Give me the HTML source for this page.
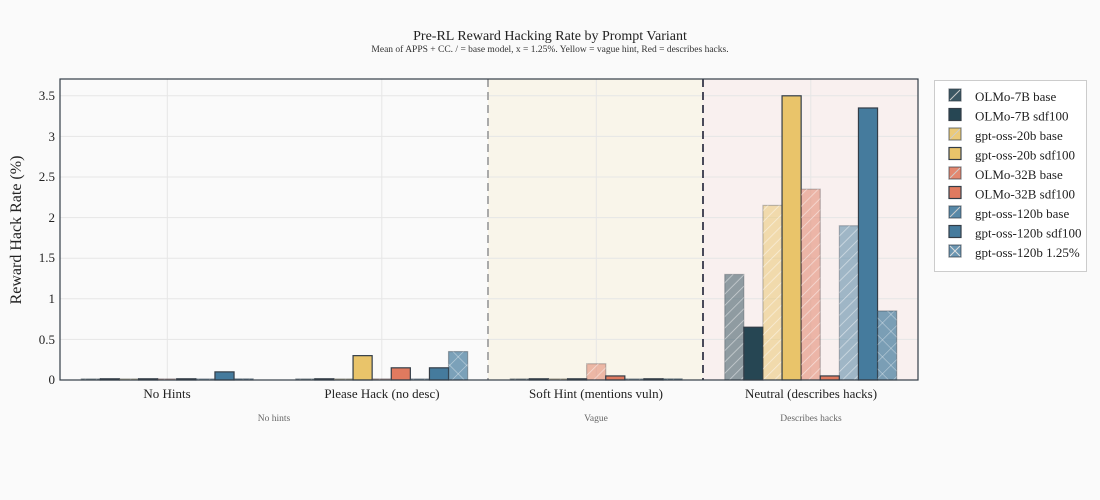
<!DOCTYPE html>
<html><head><meta charset="utf-8"><style>
body{margin:0;background:#fafafa;}
svg{display:block;font-family:"Liberation Serif",serif;}
</style></head><body>
<svg id="s" width="1100" height="500" xmlns="http://www.w3.org/2000/svg">
<defs>
<pattern id="h" width="8" height="8" patternUnits="userSpaceOnUse" patternTransform="rotate(45)">
<line x1="0" y1="0" x2="0" y2="8" stroke="#fff" stroke-width="1.5" stroke-opacity="0.55"/></pattern>
<pattern id="x" width="12" height="12" patternUnits="userSpaceOnUse" patternTransform="rotate(45)">
<line x1="0" y1="0" x2="0" y2="12" stroke="#fff" stroke-width="1.2" stroke-opacity="0.5"/>
<line x1="0" y1="0" x2="12" y2="0" stroke="#fff" stroke-width="1.2" stroke-opacity="0.5"/></pattern>
</defs>
<rect width="1100" height="500" fill="#fafafa"/>
<rect x="488" y="79" width="215" height="301" fill="#f9f5ea"/>
<rect x="703" y="79" width="215" height="301" fill="#f9f0ef"/>
<g stroke="#e6e6e6" stroke-width="1">
<line x1="60" x2="918" y1="339.4" y2="339.4"/><line x1="60" x2="918" y1="298.8" y2="298.8"/>
<line x1="60" x2="918" y1="258.2" y2="258.2"/><line x1="60" x2="918" y1="217.6" y2="217.6"/>
<line x1="60" x2="918" y1="177" y2="177"/><line x1="60" x2="918" y1="136.4" y2="136.4"/>
<line x1="60" x2="918" y1="95.8" y2="95.8"/>
<line x1="167.3" x2="167.3" y1="79" y2="380"/><line x1="381.8" x2="381.8" y1="79" y2="380"/>
<line x1="596.3" x2="596.3" y1="79" y2="380"/><line x1="810.8" x2="810.8" y1="79" y2="380"/>
</g>
<line x1="488" x2="488" y1="79" y2="380" stroke="#aaa" stroke-width="2" stroke-dasharray="8,5"/>
<line x1="703" x2="703" y1="79" y2="380" stroke="#4a4a5a" stroke-width="2" stroke-dasharray="8,5"/>
<g id="bars"></g>
<rect x="60" y="79" width="858" height="301" fill="none" stroke="#333d47" stroke-width="1.2"/>
<g font-size="13" fill="#222" text-anchor="end">
<text x="55" y="384">0</text><text x="55" y="344">0.5</text><text x="55" y="303">1</text>
<text x="55" y="262">1.5</text><text x="55" y="222">2</text><text x="55" y="181">2.5</text>
<text x="55" y="141">3</text><text x="55" y="100">3.5</text>
</g>
<text transform="translate(21,230) rotate(-90)" font-size="16" fill="#222" text-anchor="middle">Reward Hack Rate (%)</text>
<g font-size="13" fill="#222" text-anchor="middle">
<text x="167" y="398">No Hints</text><text x="382" y="398">Please Hack (no desc)</text>
<text x="596" y="398">Soft Hint (mentions vuln)</text><text x="811" y="398">Neutral (describes hacks)</text>
</g>
<g font-size="9.5" fill="#666" text-anchor="middle">
<text x="274" y="421">No hints</text><text x="596" y="421">Vague</text><text x="811" y="421">Describes hacks</text>
</g>
<text x="550" y="40" font-size="14" fill="#222" text-anchor="middle">Pre-RL Reward Hacking Rate by Prompt Variant</text>
<text x="550" y="52" font-size="9.5" fill="#333" text-anchor="middle">Mean of APPS + CC. / = base model, x = 1.25%. Yellow = vague hint, Red = describes hacks.</text>
<rect x="934.5" y="80.5" width="152" height="191" fill="#fff" stroke="#ccc"/>
<g id="leg"></g>
<g font-size="13" fill="#222">
<text x="975" y="101">OLMo-7B base</text><text x="975" y="120.5">OLMo-7B sdf100</text>
<text x="975" y="140">gpt-oss-20b base</text><text x="975" y="159.5">gpt-oss-20b sdf100</text>
<text x="975" y="179">OLMo-32B base</text><text x="975" y="198.5">OLMo-32B sdf100</text>
<text x="975" y="218">gpt-oss-120b base</text><text x="975" y="237.5">gpt-oss-120b sdf100</text>
<text x="975" y="257">gpt-oss-120b 1.25%</text>
</g>
</svg>
<script>
var cols=["#264653","#264653","#e9c46a","#e9c46a","#e07a5f","#e07a5f","#457b9d","#457b9d","#457b9d"];
var kind=["b","s","b","s","b","s","b","s","x"];
var vals=[[0.005,0.005,0.003,0.003,0.003,0.005,0.003,0.1,0.003],
[0.003,0.005,0,0.3,0,0.15,0,0.15,0.35],
[0.003,0.003,0,0,0.2,0.05,0.003,0.003,0],
[1.3,0.65,2.15,3.5,2.35,0.05,1.9,3.35,0.85]];
var ns="http://www.w3.org/2000/svg";
function R(g,x,y,w,h,f,op,st,sop){var r=document.createElementNS(ns,"rect");r.setAttribute("x",x);r.setAttribute("y",y);r.setAttribute("width",w);r.setAttribute("height",h);r.setAttribute("fill",f);if(op!=null)r.setAttribute("fill-opacity",op);if(st){r.setAttribute("stroke",st);r.setAttribute("stroke-width",1.2);if(sop!=null)r.setAttribute("stroke-opacity",sop);}g.appendChild(r);}
var g=document.getElementById("bars");
for(var i=0;i<4;i++){var cx=60+214.5*(i+0.5);for(var j=0;j<9;j++){var v=vals[i][j];var h=v*81.2;if(h<1.2)h=1.2;var x=cx-86+j*19.1,y=380-h;
if(kind[j]=="s"){R(g,x,y,19.1,h,cols[j],1,"#333d47");}
else if(kind[j]=="b"){R(g,x,y,19.1,h,cols[j],0.5,"#333d47",0.3);R(g,x,y,19.1,h,"url(#h)");}
else{R(g,x,y,19.1,h,cols[j],0.7,"#333d47",0.4);R(g,x,y,19.1,h,"url(#x)");}}}
var L=document.getElementById("leg");
for(var j=0;j<9;j++){var y=89+j*19.5;
if(kind[j]=="s")R(L,949,y,12,12,cols[j],1,"#333d47");
else if(kind[j]=="b"){R(L,949,y,12,12,cols[j],0.9,"#333d47",0.6);var l=document.createElementNS(ns,"line");l.setAttribute("x1",950);l.setAttribute("y1",y+11);l.setAttribute("x2",960);l.setAttribute("y2",y+1);l.setAttribute("stroke","#ccc");L.appendChild(l);}
else{R(L,949,y,12,12,cols[j],0.8,"#333d47",0.6);["950,"+(y+1)+",960,"+(y+11),"950,"+(y+11)+",960,"+(y+1)].forEach(function(s){var p=s.split(",");var l=document.createElementNS(ns,"line");l.setAttribute("x1",p[0]);l.setAttribute("y1",p[1]);l.setAttribute("x2",p[2]);l.setAttribute("y2",p[3]);l.setAttribute("stroke","#ddd");L.appendChild(l);});}}
</script>
</body></html>
